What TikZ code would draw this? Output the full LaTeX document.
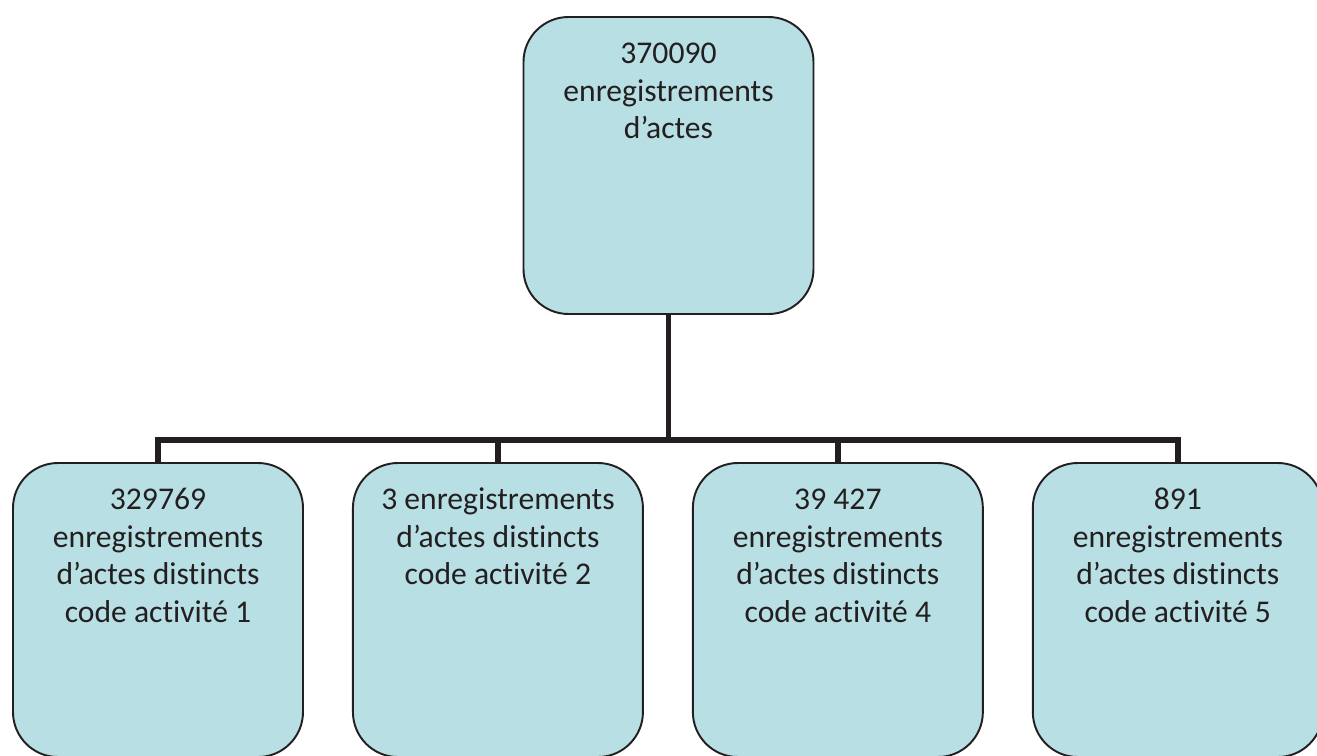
\documentclass[tikz,border=0pt]{standalone}
\usepackage{fontspec}
\setmainfont{Carlito}[RawFeature={-liga;-clig;-dlig;-calt}]
\usepackage{tikz}
\usetikzlibrary{positioning}
\definecolor{boxfill}{HTML}{B8DFE3}
\definecolor{linkgray}{HTML}{231F20}
\tikzstyle{link} = [line width=3.4pt, draw=linkgray]
\newcommand{\boxtxt}[2]{\parbox[c][#1][t]{5.6cm}{\centering\strut #2}}

\begin{document}
\begin{tikzpicture}[font=\fontsize{18pt}{21.6pt}\selectfont,
  box/.style={rectangle, rounded corners=0.9cm, draw=linkgray, line width=1.1pt, fill=boxfill, minimum width=5.8cm, inner xsep=0.1cm, inner ysep=0.39cm, text=linkgray}]
	\useasboundingbox (0,0) rectangle (26.34,-15.12);
	\node[box, minimum height=5.94cm] (root) at (13.37,-3.31) {\boxtxt{5.16cm}{370090\\enregistrements\\d’actes}};
	\node[box, minimum height=5.88cm] (act1) at (3.16,-12.2) {\boxtxt{5.1cm}{329769\\enregistrements\\d’actes distincts\\code activité 1}};
	\node[box, minimum height=5.88cm, right=0.96cm of act1] (act2) {\boxtxt{5.1cm}{3 enregistrements\\d’actes distincts\\code activité 2}};
	\node[box, minimum height=5.88cm, right=0.96cm of act2] (act4) {\boxtxt{5.1cm}{39 427\\enregistrements\\d’actes distincts\\code activité 4}};
	\node[box, minimum height=5.88cm, right=0.96cm of act4] (act5) {\boxtxt{5.1cm}{891\\enregistrements\\d’actes distincts\\code activité 5}};
	\coordinate[above=0.44cm of act1.north] (bus);
	\draw[link] (root.south) -- (root.south |- bus);
	\draw[link] (act1.north) -- (bus) -- (act5.north |- bus) -- (act5.north);
	\foreach \n in {act2,act4}
		\draw[link] (\n.north) -- (\n.north |- bus);
\end{tikzpicture}
\end{document}
